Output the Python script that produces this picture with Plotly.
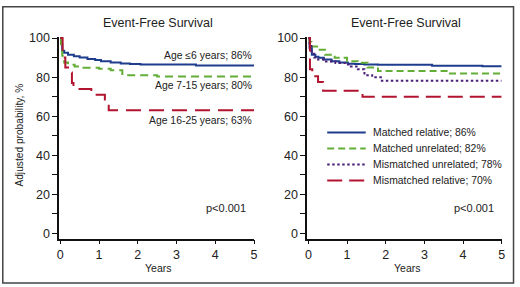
import plotly.graph_objects as go

# ---------------- data ----------------
years_ticks = [0, 1, 2, 3, 4, 5]
prob_ticks = list(range(0, 101, 10))
prob_labels = [str(v) if v % 20 == 0 else "" for v in prob_ticks]

# Left panel: by age
age6_t = [0, 0.02, 0.05, 0.1, 0.2, 0.35, 0.5, 0.7, 0.9, 1.05, 1.3, 1.56, 1.8, 2.07, 3.5, 5]
age6_s = [100, 97, 93.5, 92.5, 91.5, 90.7, 90, 89.3, 88.8, 88.2, 87.5, 87, 86.8, 86.5, 86, 86]
age7_t = [0, 0.02, 0.05, 0.1, 0.2, 0.37, 0.6, 1.0, 1.3, 1.6, 1.7, 2.5, 5]
age7_s = [100, 96, 91, 87.5, 86.3, 85.5, 84.8, 84.3, 83.6, 81.6, 81, 80.4, 80.4]
age16_t = [0, 0.06, 0.13, 0.24, 0.3, 0.34, 0.8, 1.15, 1.25, 5]
age16_s = [100, 90, 85, 82.4, 77, 74, 71, 67, 63, 63]

# Right panel: by donor type
mrel_t = [0, 0.03, 0.09, 0.18, 0.26, 0.4, 0.6, 0.8, 1.02, 1.2, 1.45, 1.8, 3.2, 4.5, 5]
mrel_s = [100, 95, 91.5, 90.5, 89.9, 89, 88.2, 87.5, 86.9, 86.7, 86.5, 86.3, 85.9, 85.6, 85.6]
munr_t = [0, 0.03, 0.08, 0.26, 0.43, 0.68, 1.0, 1.28, 1.53, 1.8, 3.62, 5]
munr_s = [100, 98, 95.7, 94, 91.5, 89.9, 88.2, 87.4, 85, 83.2, 81.9, 81.9]
mmunr_t = [0, 0.03, 0.08, 0.15, 0.25, 0.4, 0.7, 0.95, 1.1, 1.28, 1.45, 1.65, 1.9, 5]
mmunr_s = [100, 96, 92, 90, 89, 88, 87.3, 86.5, 85.5, 84, 81, 80, 78.2, 78.2]
mmrel_t = [0, 0.04, 0.1, 0.25, 0.38, 1.4, 5]
mmrel_s = [100, 84, 80.5, 77.5, 73, 70, 70]

left_labels = ["Age \u22646 years; 86%", "Age 7-15 years; 80%", "Age 16-25 years; 63%"]
left_label_y = [91.2, 75.5, 57.7]
right_names = ["Matched relative; 86%", "Matched unrelated; 82%",
               "Mismatched unrelated; 78%", "Mismatched relative; 70%"]

BLUE = "#1e3d8c"
GREEN = "#62ae37"
PURPLE = "#4a2179"
RED = "#b2132e"

FONT = "Liberation Sans, Arial, sans-serif"

W, H = 520, 287

fig = go.Figure()

def add(t, s, color, dash, xa, ya, name):
    fig.add_trace(go.Scatter(
        x=t, y=s, mode="lines", line=dict(color=color, width=2, dash=dash, shape="hv"),
        xaxis=xa, yaxis=ya, name=name, showlegend=False, hoverinfo="skip"))

add(age6_t, age6_s, BLUE, "solid", "x", "y", left_labels[0])
add(age7_t, age7_s, GREEN, "8px,5px", "x", "y", left_labels[1])
add(age16_t, age16_s, RED, "15px,8px", "x", "y", left_labels[2])

right_styles = [(BLUE, "solid"), (GREEN, "7px,4px"), (PURPLE, "2.5px,2.5px"), (RED, "15px,7px")]
right_data = [(mrel_t, mrel_s), (munr_t, munr_s), (mmunr_t, mmunr_s), (mmrel_t, mmrel_s)]
for (t, s), (c, d), nm in zip(right_data, right_styles, right_names):
    add(t, s, c, d, "x2", "y2", nm)

ydom = [1 - 239.4 / H, 1 - 32 / H]

xcommon = dict(range=[-0.03, 5.0], tickvals=years_ticks, ticks="outside", ticklen=4,
               tickwidth=1.3, tickcolor="#111", showline=True, linecolor="#111", linewidth=1.5,
               showgrid=False, zeroline=False, tickfont=dict(family=FONT, size=12.5, color="#222"),
               fixedrange=True)
ycommon = dict(range=[-2.7, 100.5], tickvals=prob_ticks, ticktext=prob_labels, ticks="outside",
               ticklen=5, tickwidth=1.3, tickcolor="#111", showline=True, linecolor="#111",
               linewidth=1.5, showgrid=False, zeroline=False,
               tickfont=dict(family=FONT, size=12.5, color="#222"), fixedrange=True)

fig.update_layout(
    width=W, height=H, margin=dict(l=0, r=0, t=0, b=0),
    paper_bgcolor="white", plot_bgcolor="white",
    xaxis=dict(domain=[57.8 / W, 255 / W], anchor="y", **xcommon),
    yaxis=dict(domain=ydom, anchor="x", **ycommon),
    xaxis2=dict(domain=[308.8 / W, 505.5 / W], anchor="y2", **xcommon),
    yaxis2=dict(domain=ydom, anchor="x2", **ycommon),
    showlegend=False,
)

ann = []
for txt, yv in zip(left_labels, left_label_y):
    ann.append(dict(x=5, y=yv, xref="x", yref="y", text=txt, showarrow=False, xanchor="right",
                    yanchor="middle", font=dict(family=FONT, size=10.4, color="#222")))
for xr, yr in [("x", "y"), ("x2", "y2")]:
    ann.append(dict(x=4.28, y=13, xref=xr, yref=yr, text="p<0.001", showarrow=False,
                    xanchor="center", yanchor="middle", font=dict(family=FONT, size=11, color="#222")))
for cx in [157.5, 409]:
    ann.append(dict(x=cx / W, y=1 - 17 / H, xref="paper", yref="paper", text="Event-Free Survival",
                    showarrow=False, xanchor="center", yanchor="middle",
                    font=dict(family=FONT, size=12.5, color="#222")))
for cx in [157.5, 409.5]:
    ann.append(dict(x=cx / W, y=1 - 269 / H, xref="paper", yref="paper", text="Years",
                    showarrow=False, xanchor="center", yanchor="middle",
                    font=dict(family=FONT, size=10.5, color="#222")))
ann.append(dict(x=17.5 / W, y=1 - 133 / H, xref="paper", yref="paper", text="Adjusted probability, %",
                showarrow=False, xanchor="center", yanchor="middle", textangle=-90,
                font=dict(family=FONT, size=10.2, color="#222")))

# Legend (right panel), built as key lines + labels
LEG_X0, LEG_X1, LEG_TX = 329, 368, 373
LEG_ROWS = [130, 146.5, 163, 179.5]
shapes = []
for (c, d), nm, ry in zip(right_styles, right_names, LEG_ROWS):
    shapes.append(dict(type="line", xref="paper", yref="paper", x0=LEG_X0 / W, x1=LEG_X1 / W,
                       y0=1 - ry / H, y1=1 - ry / H, line=dict(color=c, width=2, dash=d)))
    ann.append(dict(x=LEG_TX / W, y=1 - ry / H, xref="paper", yref="paper", text=nm,
                    showarrow=False, xanchor="left", yanchor="middle",
                    font=dict(family=FONT, size=10.4, color="#222")))

shapes.append(dict(type="rect", xref="paper", yref="paper", x0=0.8 / W, x1=517.5 / W,
                   y0=1 - 285 / H, y1=1 - 0.8 / H, line=dict(color="#444", width=1.5),
                   fillcolor="rgba(0,0,0,0)"))
fig.update_layout(annotations=ann, shapes=shapes)

fig.write_html("out.html", config={"displayModeBar": False},
               post_script="document.body.style.margin='0';document.body.style.padding='0';")
